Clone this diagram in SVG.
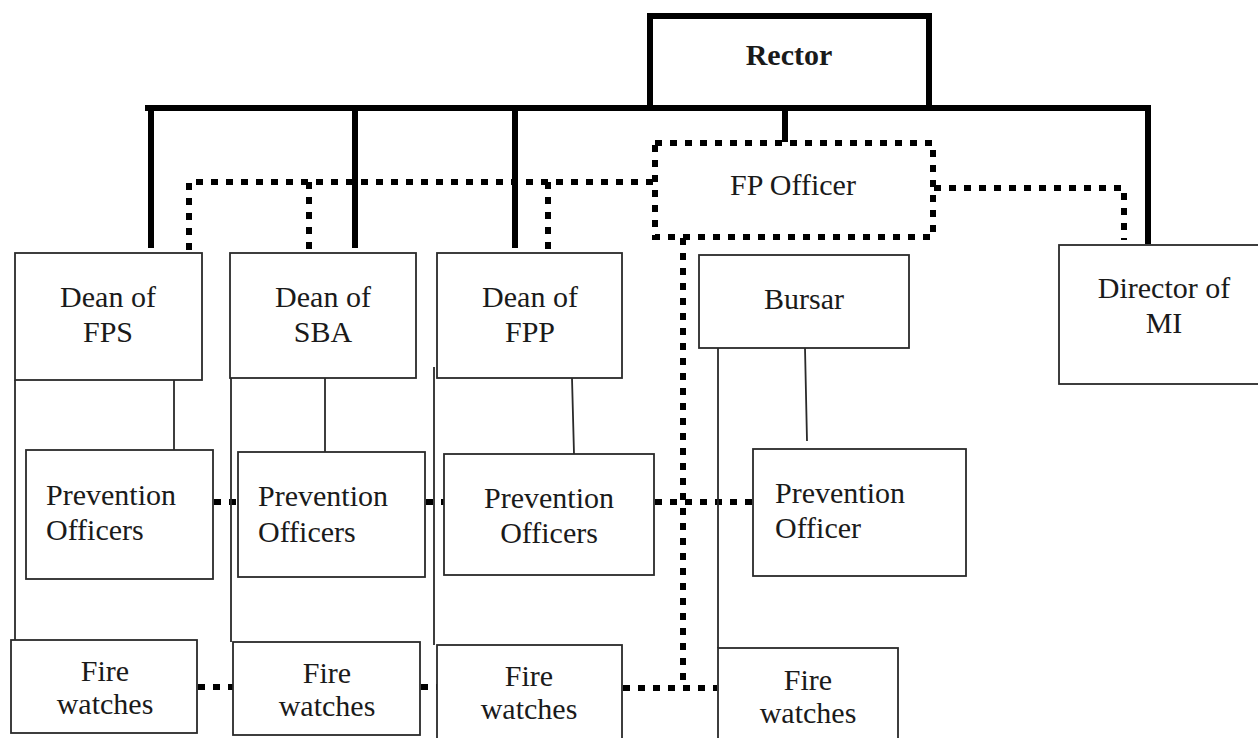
<svg xmlns="http://www.w3.org/2000/svg" width="1258" height="738" viewBox="0 0 1258 738">
<style>
.box{fill:#fff;stroke:#2a2a2a;stroke-width:1.8}
.thin{fill:none;stroke:#2a2a2a;stroke-width:1.8}
.thick{fill:none;stroke:#000;stroke-width:6}
.dot{fill:none;stroke:#000;stroke-width:6;stroke-dasharray:7 8}
.t{font-family:"Liberation Serif","Times New Roman",serif;font-size:30px;fill:#1a1a1a}
.c{text-anchor:middle}
.b{font-weight:bold}
</style>
<rect width="1258" height="738" fill="#fff"/>
<g id="connectors">
<path class="thick" d="M650 108 V16 H929 V108"/>
<path class="thick" d="M145 108 H1151"/>
<path class="thick" d="M151 108 V248 M355 108 V248 M515 108 V248 M785 108 V142 M1148 108 V244"/>
<path class="dot" d="M653 182 H189 V252"/>
<path class="dot" d="M309 182 V252"/>
<path class="dot" d="M548 182 V252"/>
<path class="dot" d="M934 188 H1124 V240"/>
<path class="dot" d="M683 238 V688"/>
<path class="dot" d="M623 688 H717"/>
<path class="dot" d="M198 687 H233"/>
<path class="dot" d="M421 687 H437"/>
<path class="dot" d="M214 502 H238"/>
<path class="dot" d="M426 502 H444"/>
<path class="dot" d="M655 502 H753"/>
<path class="thin" d="M174 380 V450 M325 378 V452 M572 378 L574 454 M805 348 L807 441"/>
<path class="thin" d="M15 380 V640 M231 378 V642 M434 367 V645 M718 348 V648"/>
</g>
<g id="rector"><text class="t c b" x="789" y="65">Rector</text></g>
<g id="fp-officer"><rect x="655" y="143" width="278" height="94" fill="none" stroke="#000" stroke-width="6" stroke-dasharray="7 8"/><text class="t c" x="793" y="195">FP Officer</text></g>
<g id="dean-fps"><rect class="box" x="15" y="253" width="187" height="127"/><text class="t c" x="108" y="307">Dean of</text><text class="t c" x="108" y="342">FPS</text></g>
<g id="dean-sba"><rect class="box" x="230" y="253" width="186" height="125"/><text class="t c" x="323" y="307">Dean of</text><text class="t c" x="323" y="342">SBA</text></g>
<g id="dean-fpp"><rect class="box" x="437" y="253" width="185" height="125"/><text class="t c" x="530" y="307">Dean of</text><text class="t c" x="530" y="342">FPP</text></g>
<g id="bursar"><rect class="box" x="699" y="255" width="210" height="93"/><text class="t c" x="804" y="309">Bursar</text></g>
<g id="director-mi"><rect class="box" x="1059" y="245" width="205" height="139"/><text class="t c" x="1164" y="298">Director of</text><text class="t c" x="1164" y="333">MI</text></g>
<g id="po-fps"><rect class="box" x="26" y="450" width="187" height="129"/><text class="t" x="46" y="505">Prevention</text><text class="t" x="46" y="540">Officers</text></g>
<g id="po-sba"><rect class="box" x="238" y="452" width="187" height="125"/><text class="t" x="258" y="506">Prevention</text><text class="t" x="258" y="542">Officers</text></g>
<g id="po-fpp"><rect class="box" x="444" y="454" width="210" height="121"/><text class="t c" x="549" y="508">Prevention</text><text class="t c" x="549" y="543">Officers</text></g>
<g id="po-bursar"><rect class="box" x="753" y="449" width="213" height="127"/><text class="t" x="775" y="503">Prevention</text><text class="t" x="775" y="538">Officer</text></g>
<g id="fw-fps"><rect class="box" x="11" y="640" width="186" height="93"/><text class="t c" x="105" y="681">Fire</text><text class="t c" x="105" y="714">watches</text></g>
<g id="fw-sba"><rect class="box" x="233" y="642" width="187" height="93"/><text class="t c" x="327" y="683">Fire</text><text class="t c" x="327" y="716">watches</text></g>
<g id="fw-fpp"><rect class="box" x="437" y="645" width="185" height="96"/><text class="t c" x="529" y="686">Fire</text><text class="t c" x="529" y="719">watches</text></g>
<g id="fw-bursar"><rect class="box" x="718" y="648" width="180" height="96"/><text class="t c" x="808" y="690">Fire</text><text class="t c" x="808" y="723">watches</text></g>
</svg>
